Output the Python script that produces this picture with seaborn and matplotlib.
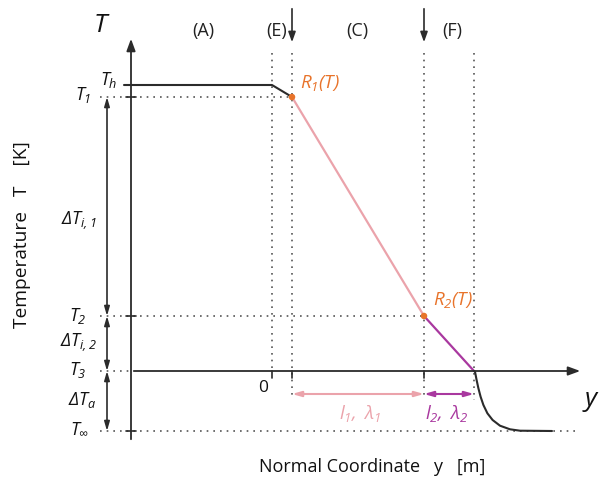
import matplotlib
matplotlib.use("Agg")
import matplotlib.pyplot as plt
import seaborn as sns

sns.set_theme(style="white")
plt.rcParams['font.family'] = ['Open Sans', 'DejaVu Sans']
plt.rcParams['mathtext.fontset'] = 'custom'
plt.rcParams['mathtext.rm'] = 'Open Sans:italic'
plt.rcParams['mathtext.it'] = 'Open Sans:italic'

# ---- data (schematic units) ----
layer_bounds = [0.0, 1.0, 7.6, 10.1]          # y positions: E start, R1, R2, F end
layer_names = ["(A)", "(E)", "(C)", "(F)"]
layer_label_x = [-3.45, 0.25, 4.25, 9.0]
T_levels = {"T_h": 28.6, "T_1": 27.4, "T_2": 5.5, "T_3": 0.0, "T_inf": -6.0}

prof_y = [-7.4, 0.0, 1.0]
prof_T = [28.6, 28.6, 27.4]
solid1_y = [1.0, 7.6]
solid1_T = [27.4, 5.5]
solid2_y = [7.6, 10.1]
solid2_T = [5.5, 0.0]
tail_y = [10.1, 10.15, 10.23, 10.32, 10.43, 10.57, 10.77, 11.03, 11.4, 11.9, 12.4, 14.0]
tail_T = [0.0, -0.07, -0.9, -1.73, -2.57, -3.4, -4.23, -4.9, -5.47, -5.83, -5.97, -6.0]

BLACK = "#2b2b2b"
PINK = "#eba3ab"
PURPLE = "#a9389f"
ORANGE = "#e8732a"
DOT = "#555555"

fig = plt.figure(figsize=(6.01, 4.82), dpi=100)
ax = fig.add_axes([0, 0, 1, 1])
ax.set_xlim(-13.6, 16.45)
ax.set_ylim(-11.1, 37.1)
ax.axis("off")

dotted = dict(color=DOT, linestyle=(0, (1, 3)), linewidth=1.2)

# vertical dotted lines
v_bottom = [0.0, -2.7, -2.7, -2.9]
for xb, yb in zip(layer_bounds, v_bottom):
    ax.plot([xb, xb], [31.8, yb], **dotted)
# horizontal dotted lines
h_end = {"T_1": 1.0, "T_2": 7.6, "T_3": -7.05, "T_inf": 15.3}
for k, xe in h_end.items():
    ax.plot([-8.6, xe], [T_levels[k], T_levels[k]], **dotted)
# small solid ticks on T axis
for k in ["T_1", "T_2", "T_inf"]:
    ax.plot([-7.3, -6.8], [T_levels[k], T_levels[k]], color=BLACK, lw=1.2)
# small ticks on y axis
for xb in layer_bounds[:3]:
    ax.plot([xb, xb], [0, -0.7], color=BLACK, lw=1.2)

# axes arrows
ax.annotate("", xy=(-7.05, 33.5), xytext=(-7.05, -7.1),
            arrowprops=dict(arrowstyle="-|>,head_length=0.6,head_width=0.22", color=BLACK, lw=1.3))
ax.annotate("", xy=(15.55, 0), xytext=(-7.05, 0),
            arrowprops=dict(arrowstyle="-|>,head_length=0.6,head_width=0.22", color=BLACK, lw=1.3))

# top arrows
for xb in layer_bounds[1:3]:
    ax.annotate("", xy=(xb, 32.6), xytext=(xb, 36.5),
                arrowprops=dict(arrowstyle="-|>,head_length=0.5,head_width=0.18", color=BLACK, lw=1.2))

# left dimension arrows
dims = [("T_1", "T_2"), ("T_2", "T_3"), ("T_3", "T_inf")]
for a, b in dims:
    ax.annotate("", xy=(-8.25, T_levels[b]), xytext=(-8.25, T_levels[a]),
                arrowprops=dict(arrowstyle="<|-|>,head_length=0.45,head_width=0.13", color=BLACK, lw=1.2,
                                shrinkA=0, shrinkB=0))

# thickness dimension arrows
ax.annotate("", xy=(7.6, -2.3), xytext=(1.0, -2.3),
            arrowprops=dict(arrowstyle="<|-|>,head_length=0.45,head_width=0.13", color=PINK, lw=1.5,
                            shrinkA=0, shrinkB=0))
ax.annotate("", xy=(10.1, -2.3), xytext=(7.6, -2.3),
            arrowprops=dict(arrowstyle="<|-|>,head_length=0.45,head_width=0.13", color=PURPLE, lw=1.5,
                            shrinkA=0, shrinkB=0))

# temperature profile
sns.lineplot(x=prof_y, y=prof_T, ax=ax, color=BLACK, lw=1.5, sort=False)
sns.lineplot(x=solid1_y, y=solid1_T, ax=ax, color=PINK, lw=1.6, sort=False)
sns.lineplot(x=solid2_y, y=solid2_T, ax=ax, color=PURPLE, lw=1.6, sort=False)
sns.lineplot(x=tail_y, y=tail_T, ax=ax, color=BLACK, lw=1.5, sort=False)
sns.scatterplot(x=[1.0, 7.6], y=[27.4, 5.5], ax=ax, color=ORANGE, s=22, edgecolor="none", zorder=5)

# labels
for name, xl in zip(layer_names, layer_label_x):
    ax.text(xl, 34.0, name, ha="center", va="center", fontsize=13, color="#222222")

mt = dict(ha="center", va="center", color="#111111")
ax.text(-8.5, 34.6, r"$T$", fontsize=19, **mt)
ax.text(15.95, -3.1, r"$y$", fontsize=19, **mt)
ax.text(-8.15, 29.1, r"$T_h$", fontsize=13, **mt)
ax.text(-9.45, 27.6, r"$T_1$", fontsize=13, **mt)
ax.text(-9.65, 15.0, r"$\Delta T_{i,1}$", fontsize=13, **mt)
ax.text(-9.7, 5.5, r"$T_2$", fontsize=13, **mt)
ax.text(-9.7, 2.8, r"$\Delta T_{i,2}$", fontsize=13, **mt)
ax.text(-9.7, 0.1, r"$T_3$", fontsize=13, **mt)
ax.text(-9.5, -2.9, r"$\Delta T_a$", fontsize=13, **mt)
ax.text(-9.6, -5.7, r"$T_\infty$", fontsize=13, **mt)
ax.text(-0.45, -1.7, "0", fontsize=12.5, **mt)
ax.text(2.4, 28.8, r"$R_1(T)$", fontsize=13.5, ha="center", va="center", color=ORANGE)
ax.text(9.05, 7.1, r"$R_2(T)$", fontsize=13.5, ha="center", va="center", color=ORANGE)
ax.text(4.4, -4.2, r"$l_1,\ \lambda_1$", fontsize=13.5, ha="center", va="center", color=PINK)
ax.text(8.75, -4.2, r"$l_2,\ \lambda_2$", fontsize=13.5, ha="center", va="center", color=PURPLE)

ax.text(5.0, -9.6, "Normal Coordinate   y   [m]", fontsize=13, ha="center", va="center", color="#111111")
ax.text(-12.5, 13.6, "Temperature   T    [K]", fontsize=13.8, rotation=90, ha="center", va="center", color="#111111")

fig.savefig("out.png", dpi=100)
